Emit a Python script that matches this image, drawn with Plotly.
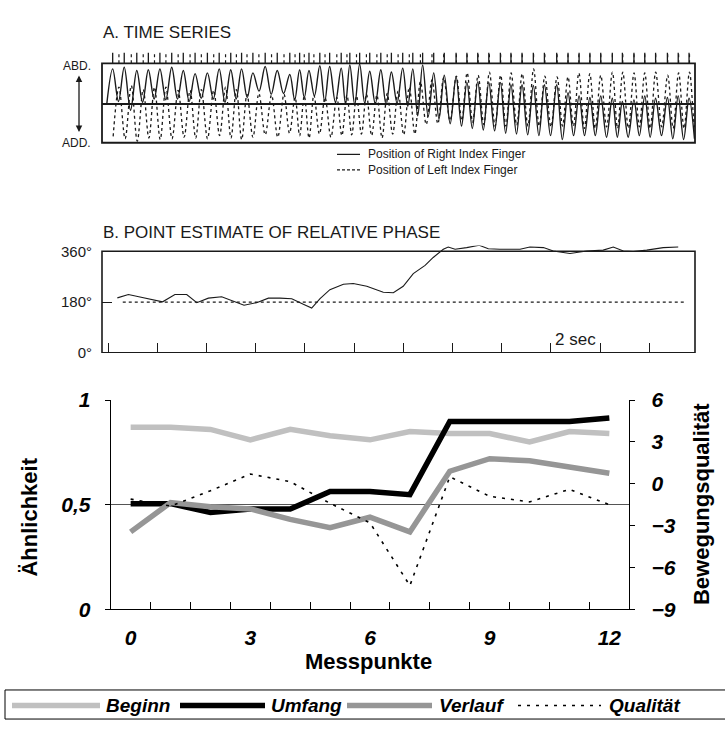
import numpy as np
import plotly.graph_objects as go

W, H = 725, 731

# ---------------- Panel A: time series (position, 0 = ADD, 1 = ABD) ----------------
right_peak_t = [0.19, 0.66, 1.17, 1.64, 2.11, 2.59, 3.06, 3.54, 4.04, 4.52, 4.99, 5.43,
                5.89, 6.39, 6.88, 7.39, 7.79, 8.17, 8.61, 9.01, 9.48, 9.83, 10.23, 10.64, 11.09, 11.52,
                11.98, 12.39, 12.79, 13.24, 13.67, 14.15, 14.59, 15.03, 15.48, 15.95, 16.38, 16.83, 17.29, 17.74,
                18.24, 18.70, 19.15, 19.59, 20.03, 20.50, 20.91, 21.38, 21.82, 22.26, 22.74, 23.18, 23.62]
right_peak_v = [0.93, 0.95, 0.91, 0.92, 0.93, 0.95, 0.91, 0.87, 0.88, 0.93, 0.92, 0.93,
                0.88, 0.96, 0.91, 0.86, 0.92, 0.91, 0.97, 0.96, 0.94, 0.98, 0.99, 0.90, 0.92, 0.89,
                0.94, 0.93, 0.98, 0.88, 0.85, 0.83, 0.76, 0.77, 0.76, 0.76, 0.73, 0.73, 0.72, 0.73,
                0.73, 0.63, 0.59, 0.57, 0.59, 0.56, 0.52, 0.54, 0.59, 0.56, 0.57, 0.59, 0.56]
right_start_v = 0.50
right_trough_v = [0.52, 0.41, 0.51, 0.55, 0.54, 0.55, 0.52, 0.56, 0.55, 0.51, 0.55, 0.57,
                  0.65, 0.61, 0.62, 0.54, 0.57, 0.59, 0.52, 0.51, 0.49, 0.48, 0.50, 0.49, 0.48, 0.50,
                  0.46, 0.34, 0.33, 0.30, 0.24, 0.21, 0.18, 0.16, 0.15, 0.12, 0.11, 0.10, 0.09, 0.09,
                  0.04, 0.09, 0.09, 0.09, 0.07, 0.07, 0.07, 0.09, 0.07, 0.09, 0.05, 0.04, 0.05]
left_peak_v = [0.70, 0.72, 0.67, 0.70, 0.70, 0.66, 0.66, 0.67, 0.66, 0.70, 0.67, 0.61,
               0.62, 0.60, 0.61, 0.57, 0.59, 0.60, 0.57, 0.57, 0.60, 0.59, 0.61, 0.60, 0.62, 0.65,
               0.70, 0.77, 0.79, 0.82, 0.84, 0.88, 0.85, 0.89, 0.85, 0.88, 0.87, 0.93, 0.84, 0.83,
               0.83, 0.88, 0.87, 0.85, 0.89, 0.89, 0.88, 0.88, 0.89, 0.85, 0.88, 0.89, 0.87]
left_trough_v = [0.08,
                 0.05, 0.02, 0.06, 0.04, 0.05, 0.07, 0.06, 0.05, 0.09, 0.06, 0.04, 0.07,
                 0.10, 0.07, 0.12, 0.09, 0.06, 0.11, 0.07, 0.09, 0.10, 0.11, 0.09, 0.06, 0.11, 0.10,
                 0.11, 0.23, 0.24, 0.28, 0.28, 0.26, 0.23, 0.21, 0.21, 0.22, 0.21, 0.21, 0.20, 0.21,
                 0.21, 0.18, 0.18, 0.20, 0.18, 0.18, 0.20, 0.18, 0.20, 0.18, 0.18, 0.20]
midline_v = 0.488
tick_top_v = 1.134

# ---------------- Panel B: relative phase (deg) ----------------
phase_t = [0.38, 0.83, 1.30, 2.22, 2.72, 3.20, 3.61, 4.08, 4.62, 5.09,
           5.53, 6.04, 6.52, 6.99, 7.47, 7.94, 8.28, 8.62, 9.02, 9.57,
           9.97, 10.52, 11.19, 11.60, 12.00, 12.41, 12.89, 13.22, 13.63, 13.83,
           14.11, 14.58, 15.09, 15.46, 15.93, 16.75, 17.15, 17.70, 18.10, 18.78,
           19.46, 20.13, 20.54, 20.95, 21.35, 21.90, 22.57, 23.18]
phase_deg = [195, 207, 198, 181, 207, 207, 178, 194, 199, 184,
             169, 178, 194, 194, 192, 172, 159, 192, 224, 243,
             246, 236, 215, 213, 236, 281, 310, 338, 367, 375,
             367, 373, 381, 369, 367, 367, 375, 373, 361, 352,
             361, 364, 375, 361, 359, 364, 373, 375]
phase_ticks = [0, 2, 4, 6, 8, 10, 12, 14, 16, 18, 20, 22]

# ---------------- Panel C ----------------
messpunkte = [0, 1, 2, 3, 4, 5, 6, 7, 8, 9, 10, 11, 12]
beginn = [0.87, 0.87, 0.86, 0.81, 0.86, 0.83, 0.81, 0.85, 0.84, 0.84, 0.80, 0.85, 0.84]
umfang = [0.505, 0.505, 0.463, 0.479, 0.479, 0.563, 0.563, 0.548, 0.898, 0.898, 0.898, 0.898, 0.914]
verlauf = [0.37, 0.51, 0.49, 0.48, 0.43, 0.39, 0.44, 0.37, 0.66, 0.72, 0.71, 0.68, 0.65]
qualitaet = [-1.1, -1.6, -0.5, 0.7, 0.15, -1.4, -2.8, -7.3, 0.5, -0.9, -1.3, -0.4, -1.5]
x_ticks = [0, 3, 6, 9, 12]
left_ticks = [0, 0.5, 1]
left_labels = ["0", "0,5", "1"]
right_ticks = [-9, -6, -3, 0, 3, 6]

# ---------------- build waveforms ----------------
rp = np.array(right_peak_t)
per = np.diff(rp)
per = np.append(per, per[-1])
rx = [rp[0] - per[0] / 2]
ry = [right_start_v]
for i in range(len(rp)):
    rx += [rp[i], rp[i] + per[i] / 2]
    ry += [right_peak_v[i], right_trough_v[i]]

ph = np.interp(rp, phase_t, phase_deg)
lp = rp + ph / 360.0 * per
lx = [lp[0] - per[0] / 2]
ly = [left_trough_v[0]]
for i in range(len(lp)):
    lx.append(lp[i]); ly.append(left_peak_v[i])
    if i + 1 < len(lp):
        lx.append((lp[i] + lp[i + 1]) / 2); ly.append(left_trough_v[i + 1])

def tick_lines(ts):
    xs, ys = [], []
    for t in ts:
        xs += [t, t, None]
        ys += [1.0, tick_top_v, None]
    return xs, ys

fig = go.Figure()
INK = "#1a1a1a"
TOPFONT = "Liberation Sans"
BOTFONT = "Liberation Sans"

tx, ty = tick_lines(rp)
fig.add_trace(go.Scatter(x=tx, y=ty, mode="lines", line=dict(color=INK, width=1.3),
                         xaxis="x", yaxis="y", hoverinfo="skip"))
tx, ty = tick_lines(lp)
fig.add_trace(go.Scatter(x=tx, y=ty, mode="lines", line=dict(color=INK, width=1.2, dash="dot"),
                         xaxis="x", yaxis="y", hoverinfo="skip"))
fig.add_trace(go.Scatter(x=lx, y=ly, mode="lines",
                         line=dict(color=INK, width=1.3, dash="dot", shape="spline", smoothing=1.0),
                         xaxis="x", yaxis="y"))
fig.add_trace(go.Scatter(x=rx, y=ry, mode="lines",
                         line=dict(color=INK, width=1.4, shape="spline", smoothing=1.0),
                         xaxis="x", yaxis="y"))

fig.add_trace(go.Scatter(x=phase_t, y=phase_deg, mode="lines", line=dict(color=INK, width=1.1),
                         xaxis="x2", yaxis="y2"))

# Panel C
fig.add_trace(go.Scatter(x=messpunkte, y=beginn, mode="lines", name="Beginn",
                         line=dict(color="#c0c0c0", width=5.5), xaxis="x3", yaxis="y3"))
fig.add_trace(go.Scatter(x=messpunkte, y=umfang, mode="lines", name="Umfang",
                         line=dict(color="#000000", width=5.5), xaxis="x3", yaxis="y3"))
fig.add_trace(go.Scatter(x=messpunkte, y=verlauf, mode="lines", name="Verlauf",
                         line=dict(color="#969696", width=5.5), xaxis="x3", yaxis="y3"))
fig.add_trace(go.Scatter(x=messpunkte, y=qualitaet, mode="lines", name="Qualität",
                         line=dict(color="#000000", width=1.6, dash="3px,6px"), xaxis="x3", yaxis="y4"))

def px(x):
    return x / W

def py(y):
    return 1 - y / H

xdomA = [px(102), px(695)]
xrange_t = [-0.244, 23.862]
hidden = dict(showgrid=False, zeroline=False, showticklabels=False, ticks="", showline=False)

BIF = dict(family=BOTFONT, size=21, color="#000", weight="bold", style="italic")

fig.update_layout(
    width=W, height=H, margin=dict(l=0, r=0, t=0, b=0),
    paper_bgcolor="white", plot_bgcolor="white", showlegend=False,
    xaxis=dict(domain=xdomA, range=xrange_t, anchor="y", **hidden),
    yaxis=dict(domain=[py(137), py(40)], range=[-0.0244, 1.1585], anchor="x", **hidden),
    xaxis2=dict(domain=xdomA, range=xrange_t, anchor="y2", showgrid=False, zeroline=False,
                showticklabels=False, showline=False, ticks="inside", ticklen=10, tickwidth=1.3,
                tickcolor=INK, tickmode="array", tickvals=phase_ticks),
    yaxis2=dict(domain=[py(352), py(241.2)], range=[0, 380], anchor="x2", showgrid=False,
                zeroline=False, showline=False, ticks="inside", ticklen=10, tickwidth=1.2,
                tickcolor=INK, tickmode="array", tickvals=[0, 180, 360],
                ticktext=["0°", "180°", "360°"], ticklabelstandoff=9,
                tickfont=dict(family=TOPFONT, size=15, color=INK)),
    xaxis3=dict(domain=[px(110.7), px(629.3)], range=[-0.5, 12.5], anchor="y3",
                showgrid=False, zeroline=False, showline=True, linecolor="#000", linewidth=1,
                tickmode="array", tickvals=x_ticks, ticks="", tickfont=BIF, ticklabelstandoff=10,
                minor=dict(tick0=-0.5, dtick=1, ticks="inside", ticklen=7, tickcolor="#000",
                           tickwidth=1, showgrid=False)),
    yaxis3=dict(domain=[py(616.7), py(400.7)], range=[0, 1], anchor="x3",
                showgrid=True, gridcolor="#555", gridwidth=1, zeroline=False,
                showline=True, linecolor="#000", linewidth=1,
                tickmode="array", tickvals=left_ticks, ticktext=left_labels,
                ticks="outside", ticklen=5, tickcolor="#000", tickfont=BIF, ticklabelstandoff=10),
    yaxis4=dict(range=[-9, 6], overlaying="y3", side="right", anchor="x3",
                showgrid=False, zeroline=False, showline=True, linecolor="#000", linewidth=1,
                tickmode="array", tickvals=right_ticks,
                ticks="outside", ticklen=5, tickcolor="#000", tickfont=BIF, ticklabelstandoff=12),
)

shapes = [
    dict(type="rect", xref="x domain", yref="y", x0=0, x1=1, y0=0, y1=1,
         line=dict(color=INK, width=1.8)),
    dict(type="line", xref="x domain", yref="y", x0=0, x1=1, y0=midline_v, y1=midline_v,
         line=dict(color=INK, width=2.2)),
    dict(type="rect", xref="x2 domain", yref="y2", x0=0, x1=1, y0=0, y1=360,
         line=dict(color=INK, width=1.6)),
    dict(type="line", xref="x2 domain", yref="y2", x0=0.035, x1=0.986, y0=180, y1=180,
         line=dict(color=INK, width=1.2, dash="dot")),
    # panel A legend samples
    dict(type="line", xref="paper", yref="paper", x0=px(337), x1=px(360), y0=py(147), y1=py(147),
         line=dict(color=INK, width=1.2)),
    dict(type="line", xref="paper", yref="paper", x0=px(337), x1=px(360), y0=py(163), y1=py(163),
         line=dict(color=INK, width=1.2, dash="3px,2px")),
    # bottom legend box
    dict(type="rect", xref="paper", yref="paper", x0=px(5), x1=px(740), y0=py(730), y1=py(700),
         line=dict(color="#000", width=1)),
]

leg_y = 716
leg_items = [
    (12, 100, 104, "Beginn", dict(color="#c0c0c0", width=5.5)),
    (180, 265, 269, "Umfang", dict(color="#000", width=5.5)),
    (347, 432, 437, "Verlauf", dict(color="#969696", width=5.5)),
    (518, 601, 607, "Qualität", dict(color="#000", width=1.6, dash="3px,6px")),
]
annotations = [
    dict(text="A. TIME SERIES", x=px(101), y=py(21), xref="paper", yref="paper",
         xanchor="left", yanchor="middle", showarrow=False,
         font=dict(family=TOPFONT, size=17, color=INK)),
    dict(text="B. POINT ESTIMATE OF RELATIVE PHASE", x=px(101), y=py(228), xref="paper", yref="paper",
         xanchor="left", yanchor="middle", showarrow=False,
         font=dict(family=TOPFONT, size=17, color=INK)),
    dict(text="ABD.", x=px(93), y=py(56), xref="paper", yref="paper", xanchor="right",
         yanchor="middle", showarrow=False, font=dict(family=TOPFONT, size=12, color=INK)),
    dict(text="ADD.", x=px(93), y=py(135), xref="paper", yref="paper", xanchor="right",
         yanchor="middle", showarrow=False, font=dict(family=TOPFONT, size=12, color=INK)),
    dict(text="", x=px(79), y=py(124), xref="paper", yref="paper", ax=0, ay=-58,
         showarrow=True, arrowside="end+start", arrowhead=2, arrowsize=1, arrowwidth=1.3,
         arrowcolor=INK),
    dict(text="Position of Right Index Finger", x=px(366), y=py(147), xref="paper", yref="paper",
         xanchor="left", yanchor="middle", showarrow=False,
         font=dict(family=TOPFONT, size=12, color=INK)),
    dict(text="Position of Left Index Finger", x=px(366), y=py(163), xref="paper", yref="paper",
         xanchor="left", yanchor="middle", showarrow=False,
         font=dict(family=TOPFONT, size=12, color=INK)),
    dict(text="2 sec", x=19, y=48, xref="x2", yref="y2", xanchor="center", yanchor="middle",
         showarrow=False, font=dict(family=TOPFONT, size=17, color=INK)),
    dict(text="Messpunkte", x=px(368), y=py(671), xref="paper", yref="paper",
         xanchor="center", yanchor="middle", showarrow=False,
         font=dict(family=BOTFONT, size=22, color="#000", weight="bold")),
    dict(text="Ähnlichkeit", x=px(30), y=py(522), xref="paper", yref="paper", textangle=-90,
         xanchor="center", yanchor="middle", showarrow=False,
         font=dict(family=BOTFONT, size=22, color="#000", weight="bold")),
    dict(text="Bewegungsqualität", x=px(701), y=py(508), xref="paper", yref="paper", textangle=-90,
         xanchor="center", yanchor="middle", showarrow=False,
         font=dict(family=BOTFONT, size=22, color="#000", weight="bold")),
]
for x0, x1, xt, label, ln in leg_items:
    shapes.append(dict(type="line", xref="paper", yref="paper", x0=px(x0), x1=px(x1),
                       y0=py(leg_y), y1=py(leg_y), line=ln))
    annotations.append(dict(text=label, x=px(xt), y=py(leg_y), xref="paper", yref="paper",
                            xanchor="left", yanchor="middle", showarrow=False,
                            font=dict(family=BOTFONT, size=19, color="#000",
                                      weight="bold", style="italic")))

fig.update_layout(shapes=shapes, annotations=annotations)
fig.write_html("out.html", config={"displayModeBar": False},
               post_script="document.body.style.margin='0';document.body.style.overflow='hidden';")
